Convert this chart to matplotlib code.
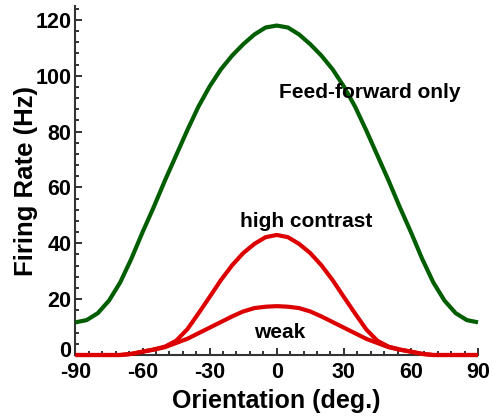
import matplotlib
matplotlib.use("Agg")
import matplotlib.pyplot as plt
from matplotlib.ticker import MultipleLocator
from matplotlib.transforms import ScaledTranslation

plt.rcParams['font.family'] = ['Liberation Sans', 'DejaVu Sans']

# Orientation samples (deg.)
orientation = [-90, -85, -80, -75, -70, -65, -60, -55, -50, -45, -40, -35, -30,
               -25, -20, -15, -10, -5, 0, 5, 10, 15, 20, 25, 30, 35, 40, 45,
               50, 55, 60, 65, 70, 75, 80, 85, 90]

# Firing rates (Hz)
feed_forward = [11.7, 12.5, 15.0, 19.5, 26.0, 34.5, 44.0, 53.0, 62.5, 71.5, 80.5,
                89.0, 96.2, 102.3, 107.2, 111.3, 114.8, 117.3, 118.0, 117.3,
                114.8, 111.3, 107.2, 102.3, 96.2, 89.0, 80.5, 71.5, 62.5, 53.0,
                44.0, 34.5, 26.0, 19.5, 15.0, 12.5, 11.7]
high_contrast = [0, 0, 0, 0, 0, 0.4, 1.2, 2.0, 3.0, 5.1, 9.2, 14.9, 20.8, 26.8,
                 32.1, 36.5, 39.8, 42.2, 43.0, 42.2, 39.8, 36.5, 32.1, 26.8, 20.8,
                 14.9, 9.2, 5.1, 3.0, 2.0, 1.2, 0.4, 0, 0, 0, 0, 0]
weak = [0, 0, 0, 0, 0, 0.4, 1.2, 1.9, 2.8, 4.3, 5.8, 7.8, 9.8, 11.8, 13.8, 15.6,
        16.8, 17.3, 17.5, 17.3, 16.8, 15.6, 13.8, 11.8, 9.8, 7.8, 5.8, 4.3, 2.8,
        1.9, 1.2, 0.4, 0, 0, 0, 0, 0]

xticks = [-90, -60, -30, 0, 30, 60, 90]
yticks = [0, 20, 40, 60, 80, 100, 120]

GREEN = '#005e00'
RED = '#dd0000'

fig = plt.figure(figsize=(4.93, 4.18), dpi=100)
ax = fig.add_axes([0.1531, 0.1507, 0.8165, 0.8349])

line_style = dict(lw=3, zorder=3, clip_on=False, solid_capstyle='butt',
                  solid_joinstyle='round')
ax.plot(orientation, feed_forward, color=GREEN, **line_style)
ax.plot(orientation, high_contrast, color=RED, **line_style)
ax.plot(orientation, weak, color=RED, **line_style)

ax.set_xlim(-90, 90)
ax.set_ylim(0, 125)

for side in ('top', 'right'):
    ax.spines[side].set_visible(False)
for side in ('left', 'bottom'):
    ax.spines[side].set_linewidth(1.5)
    ax.spines[side].set_color('#333333')

ax.set_xticks(xticks)
ax.set_yticks(yticks)
ax.xaxis.set_minor_locator(MultipleLocator(6))
ax.yaxis.set_minor_locator(MultipleLocator(4))
ax.tick_params(which='both', direction='in', width=1.3, color='#222222')
ax.tick_params(which='major', length=5)
ax.tick_params(which='minor', length=3)
ax.tick_params(axis='x', which='major', pad=5.2)
ax.tick_params(axis='y', which='major', pad=3)
ax.set_xticklabels([str(t) for t in xticks], fontsize=15.5, fontweight='bold')
ax.set_yticklabels([str(t) for t in yticks], fontsize=15.5, fontweight='bold')

# keep the "0" label just above the "-90" label at the corner
zero_label = ax.yaxis.get_major_ticks()[0].label1
zero_label.set_va('bottom')
zero_label.set_transform(zero_label.get_transform()
                         + ScaledTranslation(0, -0.07, fig.dpi_scale_trans))

ax.set_xlabel('Orientation (deg.)', fontsize=18, fontweight='bold', labelpad=4)
ax.set_ylabel('Firing Rate (Hz)', fontsize=18.5, fontweight='bold', labelpad=-2)

ax.text(41.7, 92, 'Feed-forward only', fontsize=15, fontweight='bold',
        ha='center', va='baseline')
ax.text(13.1, 45.8, 'high contrast', fontsize=15, fontweight='bold',
        ha='center', va='baseline')
ax.text(1.5, 6.2, 'weak', fontsize=15, fontweight='bold',
        ha='center', va='baseline')

fig.savefig('out.png', dpi=100)
